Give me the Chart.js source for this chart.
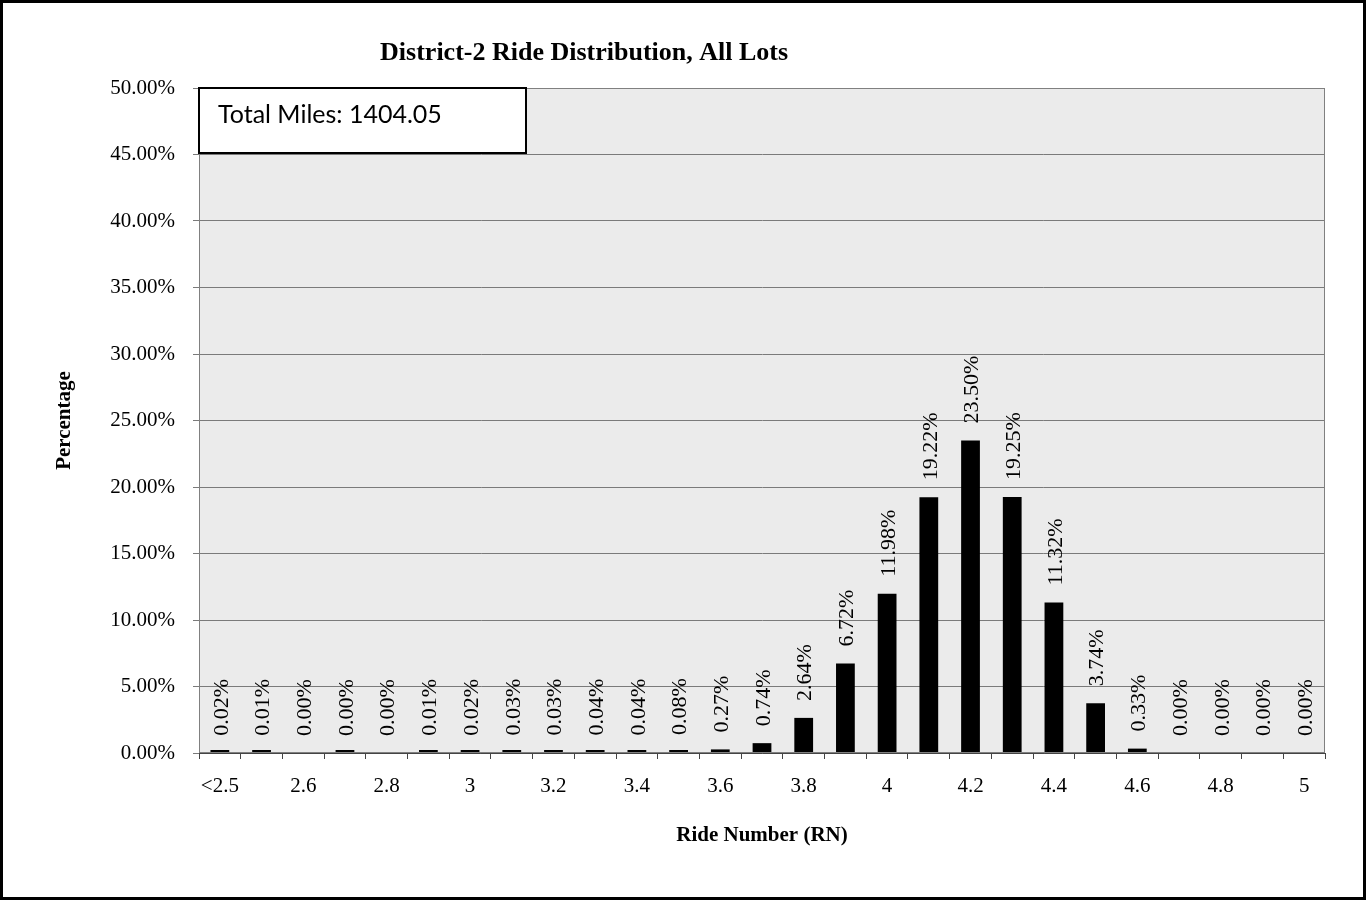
<!DOCTYPE html>
<html lang="en">
<head>
    <meta charset="UTF-8">
    <title>District-2 Ride Distribution</title>
    <script src="https://cdn.jsdelivr.net/npm/chart.js@4.4.0/dist/chart.umd.min.js"></script>
    <style>
        html, body { margin: 0; padding: 0; background: #fff; }
        #wrap { width: 1366px; height: 900px; }
    </style>
</head>
<body>
    <div id="wrap"><canvas id="rideChart" width="1366" height="900"></canvas></div>

    <script>
        // chart data
        const rideBins = ['<2.5', '2.5', '2.6', '2.7', '2.8', '2.9', '3', '3.1', '3.2', '3.3', '3.4', '3.5', '3.6',
            '3.7', '3.8', '3.9', '4', '4.1', '4.2', '4.3', '4.4', '4.5', '4.6', '4.7', '4.8', '4.9', '5'];
        const ridePercent = [0.02, 0.01, 0.00, 0.004, 0.00, 0.01, 0.02, 0.03, 0.03, 0.04, 0.04, 0.08, 0.27,
            0.74, 2.64, 6.72, 11.98, 19.22, 23.50, 19.25, 11.32, 3.74, 0.33, 0.00, 0.00, 0.00, 0.00];
        const chartTitle = 'District-2 Ride Distribution, All Lots';
        const boxText = 'Total Miles: 1404.05';
        const yTitle = 'Percentage';
        const xTitle = 'Ride Number (RN)';

        const serif = '"Liberation Serif", "Times New Roman", serif';

        // plot background, frame, title, text box
        const decorPlugin = {
            id: 'decor',
            beforeDraw(chart) {
                const { ctx, chartArea: a } = chart;
                ctx.save();
                ctx.fillStyle = '#ebebeb';
                ctx.fillRect(a.left, a.top, a.right - a.left, a.bottom - a.top);
                ctx.restore();
            },
            afterDraw(chart) {
                const { ctx, chartArea: a, width, height } = chart;
                ctx.save();
                // plot border
                ctx.strokeStyle = '#808080';
                ctx.lineWidth = 1;
                ctx.strokeRect(a.left + 0.5, a.top + 0.5, a.right - a.left - 1, a.bottom - a.top - 1);

                // title
                ctx.fillStyle = '#000';
                ctx.font = 'bold 26px ' + serif;
                ctx.textAlign = 'center';
                ctx.textBaseline = 'middle';
                ctx.fillText(chartTitle, a.left + (a.right - a.left) * 0.342, 53);

                // text box
                ctx.fillStyle = '#fff';
                ctx.fillRect(a.left, a.top, 327, 65);
                ctx.strokeStyle = '#000';
                ctx.lineWidth = 2;
                ctx.strokeRect(a.left, a.top, 327, 65);
                ctx.fillStyle = '#000';
                ctx.font = '25px Lato, "Open Sans", sans-serif';
                ctx.textAlign = 'left';
                ctx.fillText(boxText, a.left + 19, a.top + 27);

                // outer frame
                ctx.lineWidth = 3;
                ctx.strokeRect(1.5, 1.5, width - 3, height - 3);
                ctx.restore();
            }
        };

        // rotated value labels above each bar
        const valueLabels = {
            id: 'valueLabels',
            afterDatasetsDraw(chart) {
                const { ctx, scales } = chart;
                ctx.save();
                ctx.fillStyle = '#000';
                ctx.font = '22px ' + serif;
                ctx.textAlign = 'left';
                ctx.textBaseline = 'middle';
                ridePercent.forEach((v, i) => {
                    const x = scales.x.getPixelForValue(i) + 2;
                    const y = scales.y.getPixelForValue(v) - 17;
                    ctx.save();
                    ctx.translate(x, y);
                    ctx.rotate(-Math.PI / 2);
                    ctx.fillText(v.toFixed(2) + '%', 0, 0);
                    ctx.restore();
                });
                ctx.restore();
            }
        };

        new Chart(document.getElementById('rideChart'), {
            type: 'bar',
            data: {
                labels: rideBins,
                datasets: [{
                    data: ridePercent.map(v => v === 0 ? null : v),
                    backgroundColor: '#000',
                    borderWidth: 0,
                    barPercentage: 0.45,
                    categoryPercentage: 1,
                    minBarLength: 3
                }]
            },
            options: {
                responsive: false,
                animation: false,
                devicePixelRatio: 1,
                layout: { padding: { top: 88, right: 41, bottom: 0, left: 0 } },
                plugins: {
                    legend: { display: false },
                    title: { display: false },
                    tooltip: { enabled: false }
                },
                scales: {
                    x: {
                        afterFit(scale) { scale.height = 147; },
                        grid: { offset: true, drawOnChartArea: false, drawTicks: true, tickLength: 6, color: '#444' },
                        border: { color: '#444', width: 1 },
                        ticks: {
                            autoSkip: false,
                            maxRotation: 0,
                            padding: 15,
                            color: '#000',
                            font: { family: serif, size: 21 },
                            callback(val, idx) { return idx % 2 === 0 ? rideBins[idx] : ''; }
                        },
                        title: {
                            display: true,
                            text: xTitle,
                            color: '#000',
                            font: { family: serif, size: 21, weight: 'bold' },
                            padding: { top: 0, bottom: 52 }
                        }
                    },
                    y: {
                        min: 0,
                        max: 50,
                        afterFit(scale) { scale.width = 199; },
                        grid: { color: '#7a7a7a', tickLength: 6 },
                        border: { color: '#444', width: 1 },
                        ticks: {
                            stepSize: 5,
                            padding: 18,
                            color: '#000',
                            font: { family: serif, size: 21 },
                            callback: v => v.toFixed(2) + '%'
                        },
                        title: {
                            display: true,
                            text: yTitle,
                            color: '#000',
                            font: { family: serif, size: 21, weight: 'bold' },
                            padding: { top: 52, bottom: 0 }
                        }
                    }
                }
            },
            plugins: [decorPlugin, valueLabels]
        });
    </script>
</body>
</html>
